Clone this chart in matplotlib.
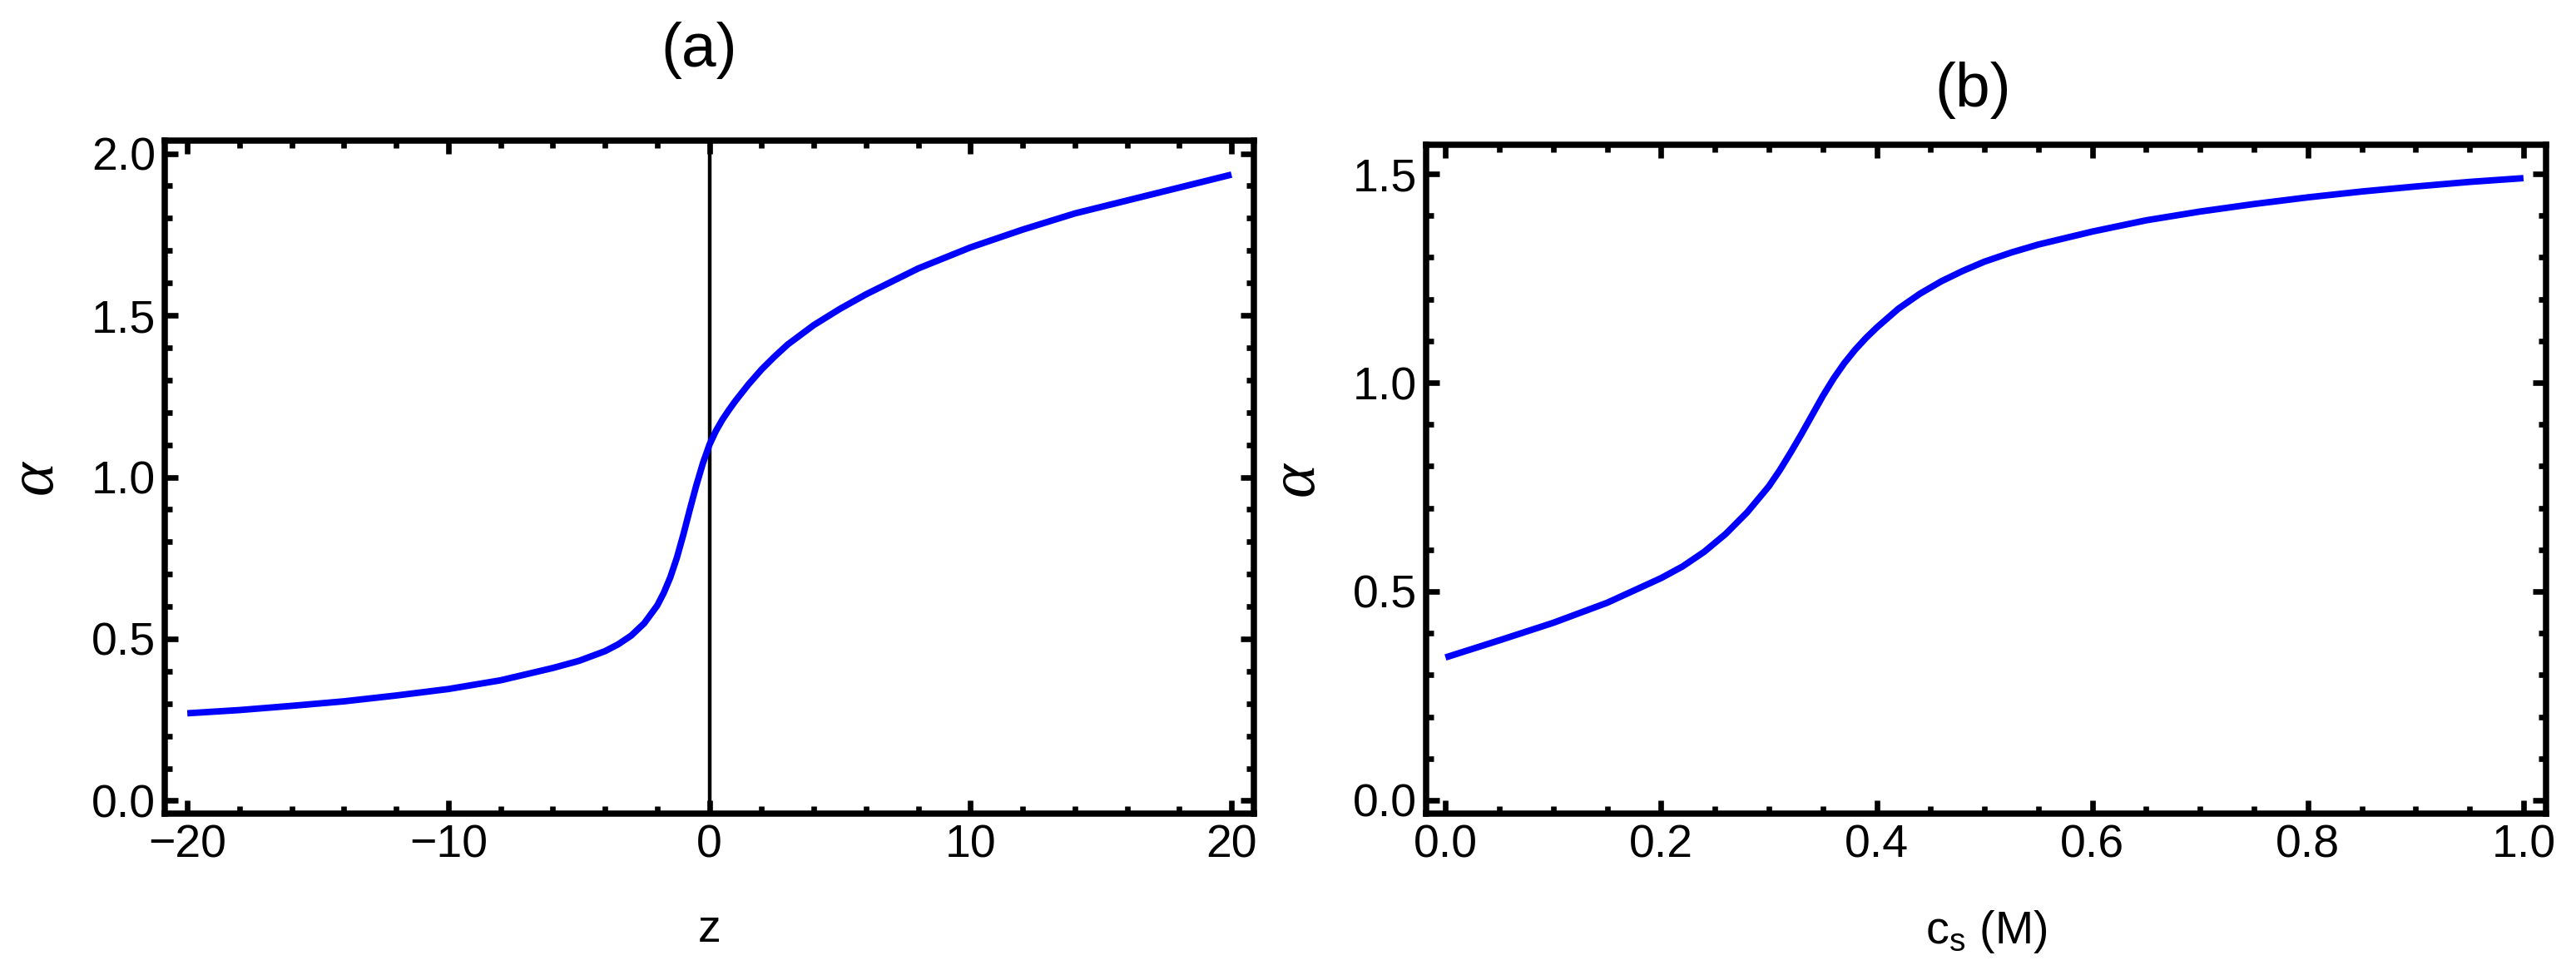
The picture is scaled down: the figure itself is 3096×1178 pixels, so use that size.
import numpy as np
import matplotlib.pyplot as plt
from matplotlib.ticker import MultipleLocator

# ---- data ----
# (a) alpha vs z
z_a = [-20, -18, -16, -14, -12, -10, -8, -6, -5, -4, -3.5, -3, -2.5, -2, -1.75,
       -1.5, -1.25, -1, -0.75, -0.5, -0.25, 0, 0.25, 0.5, 0.75, 1, 1.5, 2,
       2.5, 3, 4, 5, 6, 8, 10, 12, 14, 16, 18, 20]
alpha_a = [0.270, 0.280, 0.293, 0.307, 0.325, 0.345, 0.372, 0.410, 0.432, 0.462,
           0.483, 0.510, 0.548, 0.603, 0.642, 0.690, 0.750, 0.822, 0.900, 0.975,
           1.043, 1.100, 1.143, 1.178, 1.208, 1.236, 1.287, 1.333, 1.373, 1.410,
           1.470, 1.520, 1.565, 1.645, 1.710, 1.765, 1.815, 1.855, 1.895, 1.935]

# (b) alpha vs c_s (M)
cs_b = [0.0, 0.05, 0.10, 0.15, 0.20, 0.22, 0.24, 0.26, 0.28, 0.30, 0.31, 0.32,
        0.33, 0.34, 0.35, 0.36, 0.37, 0.38, 0.39, 0.40, 0.42, 0.44, 0.46, 0.48,
        0.50, 0.525, 0.55, 0.60, 0.65, 0.70, 0.75, 0.80, 0.85, 0.90, 0.95, 1.0]
alpha_b = [0.342, 0.383, 0.425, 0.473, 0.532, 0.560, 0.595, 0.638, 0.690, 0.752,
           0.790, 0.832, 0.876, 0.922, 0.968, 1.010, 1.047, 1.079, 1.107, 1.132,
           1.177, 1.213, 1.243, 1.268, 1.290, 1.312, 1.331, 1.362, 1.389, 1.410,
           1.428, 1.444, 1.458, 1.470, 1.481, 1.490]

xticks_a = [-20, -10, 0, 10, 20]
yticks_a = [0.0, 0.5, 1.0, 1.5, 2.0]
xticks_b = [0.0, 0.2, 0.4, 0.6, 0.8, 1.0]
yticks_b = [0.0, 0.5, 1.0, 1.5]

plt.rcParams['font.family'] = ['Liberation Sans', 'DejaVu Sans']
fsize = 20
lw_frame = 2.7
lw_curve = 2.8

fig = plt.figure(figsize=(15.48, 5.89), dpi=200)
ax1 = fig.add_axes([0.0640, 0.1698, 0.4228, 0.6867])
ax2 = fig.add_axes([0.5536, 0.1698, 0.4348, 0.6825])


def style(ax, xmaj, xmin, ymaj, ymin):
    for s in ax.spines.values():
        s.set_linewidth(lw_frame)
    ax.xaxis.set_major_locator(MultipleLocator(xmaj))
    ax.xaxis.set_minor_locator(MultipleLocator(xmin))
    ax.yaxis.set_major_locator(MultipleLocator(ymaj))
    ax.yaxis.set_minor_locator(MultipleLocator(ymin))
    ax.tick_params(which='both', direction='in', top=True, right=True,
                   width=2.4, labelsize=fsize)
    ax.tick_params(which='major', length=5.8)
    ax.tick_params(which='minor', length=3.2)
    ax.tick_params(axis='x', pad=4.5)
    ax.tick_params(axis='y', pad=4)


# ---- (a) ----
ax1.plot(z_a, alpha_a, color='blue', lw=lw_curve, solid_capstyle='butt')
ax1.axvline(0, color='black', lw=1.6, zorder=1)
ax1.set_xlim(-20.86, 20.86)
ax1.set_ylim(-0.04, 2.04)
style(ax1, 10, 2, 0.5, 0.1)
ax1.set_xticks(xticks_a)
ax1.set_yticks(yticks_a)
ax1.set_yticklabels(['%.1f' % v for v in yticks_a])
ax1.set_xlabel('z', fontsize=fsize, labelpad=18)
ax1.set_ylabel('α', fontsize=28, family='Liberation Serif', style='italic', labelpad=11)

# ---- (b) ----
ax2.plot(cs_b, alpha_b, color='blue', lw=lw_curve, solid_capstyle='butt')
ax2.set_xlim(-0.018, 1.021)
ax2.set_ylim(-0.032, 1.57)
style(ax2, 0.2, 0.05, 0.5, 0.1)
ax2.set_xticks(xticks_b)
ax2.set_xticklabels(['%.1f' % v for v in xticks_b])
ax2.set_yticks(yticks_b)
ax2.set_yticklabels(['%.1f' % v for v in yticks_b])
ax2.set_xlabel(r'c$_\mathregular{s}$ (M)', fontsize=fsize, labelpad=18)
ax2.set_ylabel('α', fontsize=28, family='Liberation Serif', style='italic', labelpad=11)

fig.text(0.2713, 0.949, '(a)', fontsize=27, ha='center', va='center')
fig.text(0.766, 0.9075, '(b)', fontsize=27, ha='center', va='center')

plt.savefig('out.png', dpi=200)
